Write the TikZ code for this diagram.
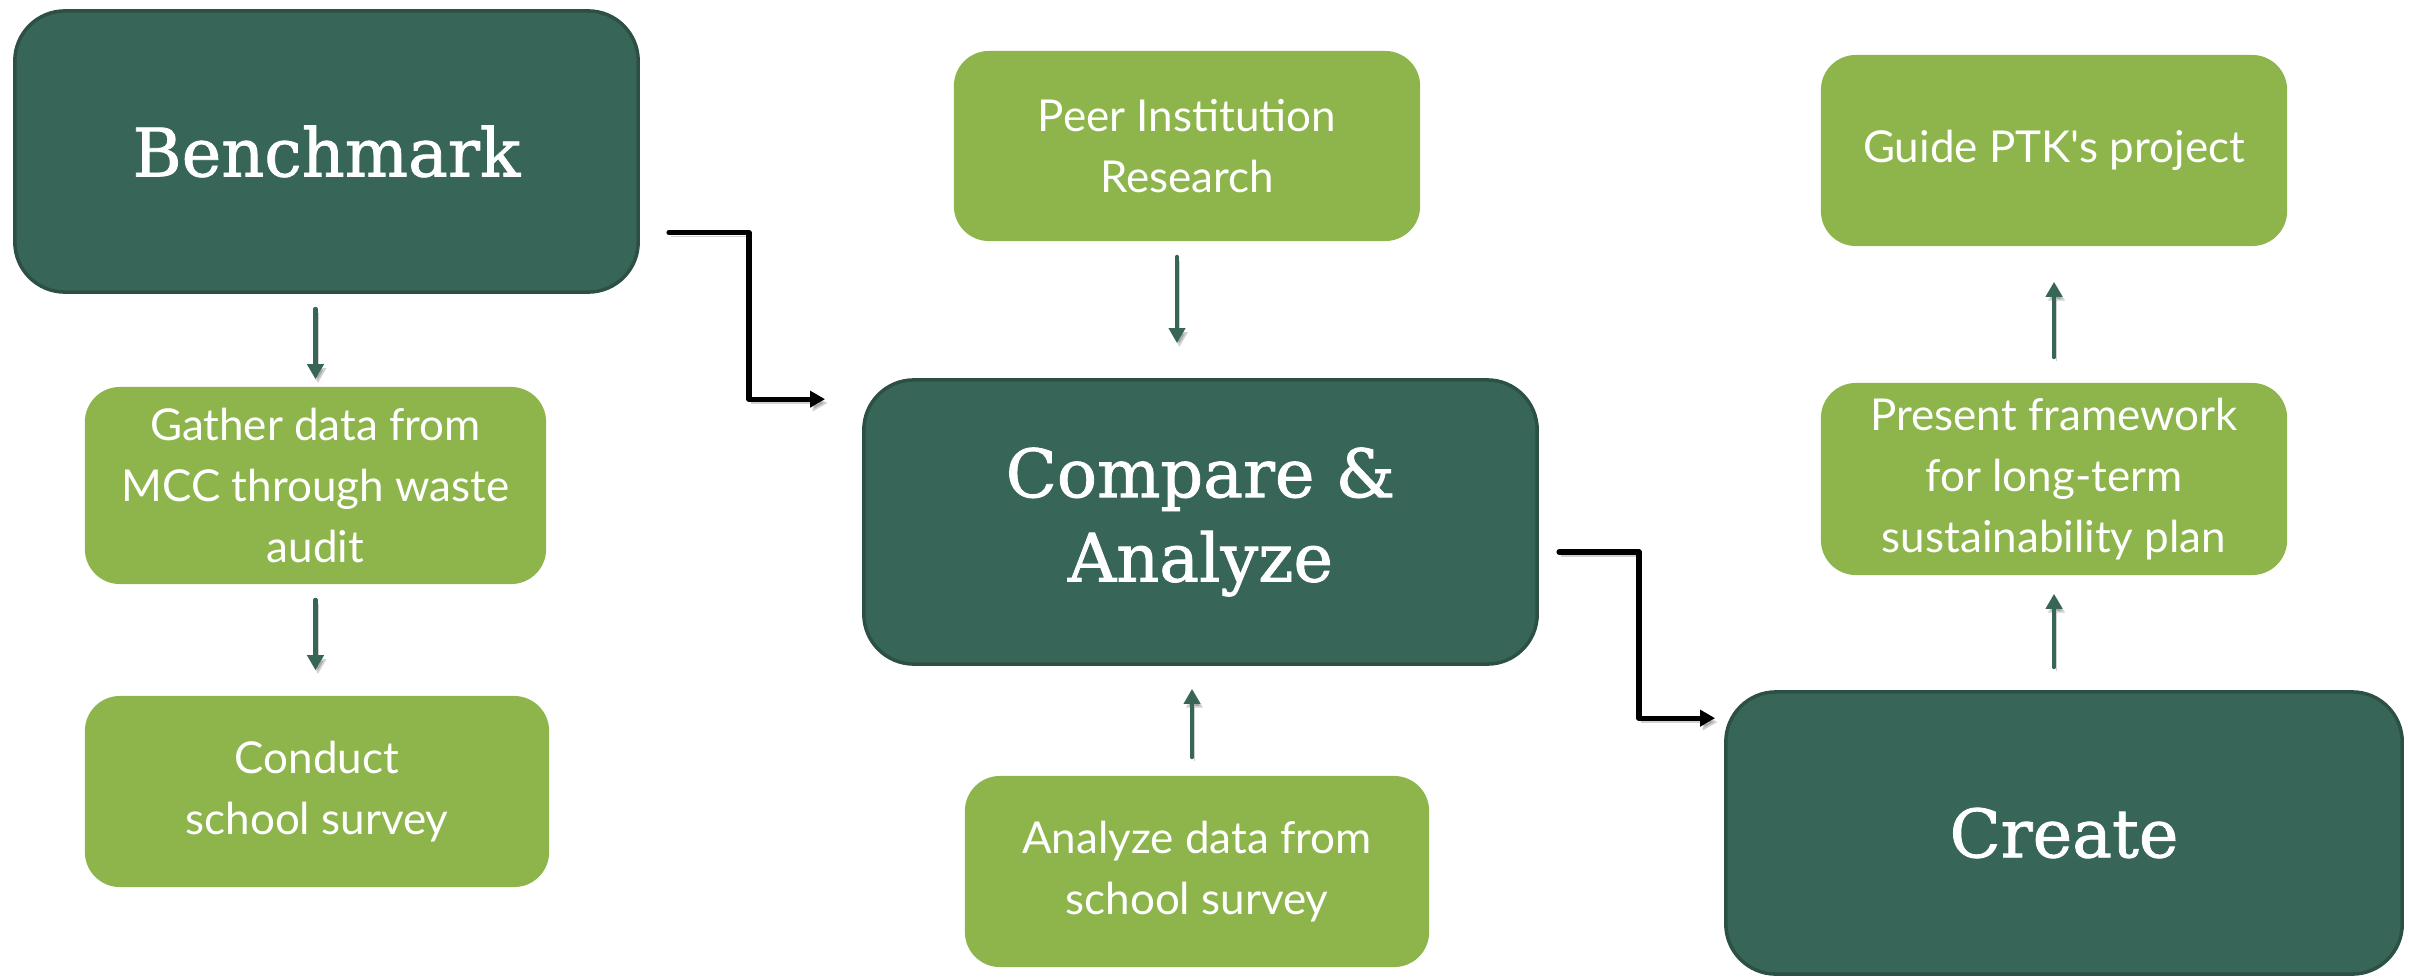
\documentclass[tikz,border=0pt]{standalone}
\usepackage{fontspec}
\setmainfont{Lato}
\newfontfamily\headfont[FakeBold=1.2]{DejaVu Serif}
\usetikzlibrary{arrows.meta,calc}
\definecolor{darkg}{HTML}{376658}
\definecolor{darkgb}{HTML}{2D5044}
\definecolor{lightg}{HTML}{8DB54B}
\tikzset{
  dbox/.style={draw=darkgb, line width=1pt, fill=darkg, rounded corners=0.5cm,
    text=white, align=center, font=\headfont\fontsize{19}{24}\selectfont, inner sep=0pt},
  lbox/.style={fill=lightg, rounded corners=0.35cm, text=white, align=center,
    font=\fontsize{12.5}{17.3}\selectfont, inner sep=0pt},
  shad/.style={preaction={draw=black, opacity=0.18, transform canvas={xshift=0.7pt,yshift=-1.1pt}}},
  garrow/.style={shad, draw=darkg, line width=1.15pt, line cap=round,
    -{Triangle[length=1.5mm,width=1.6mm]}},
  karrow/.style={shad, draw=black, line width=1.45pt, line cap=round, line join=round,
    -{Triangle[length=1.5mm,width=1.6mm]}}
}
\begin{document}
\begin{tikzpicture}[x=0.01cm,y=-0.01cm]
\useasboundingbox (0,0) rectangle (2410,976);
% dark boxes
\node[dbox, minimum width=6.23cm, minimum height=2.81cm] (bench) at (326.5,151.5) {Benchmark};
\node[dbox, minimum width=6.73cm, minimum height=2.84cm] (compare) at (1200.5,522) {Compare \&\\Analyze};
\node[dbox, minimum width=6.76cm, minimum height=2.82cm] (create) at (2064,833) {Create};
% light boxes
\node[lbox, minimum width=4.61cm, minimum height=1.97cm] (gather) at (315.5,485.5) {Gather data from\\MCC through waste\\audit};
\node[lbox, minimum width=4.64cm, minimum height=1.91cm] (conduct) at (317,791.5) {Conduct\\school survey};
\node[lbox, minimum width=4.66cm, minimum height=1.90cm] (peer) at (1187,146) {Peer Institution\\Research};
\node[lbox, minimum width=4.64cm, minimum height=1.91cm] (analyze) at (1197,871.5) {Analyze data from\\school survey};
\node[lbox, minimum width=4.66cm, minimum height=1.91cm] (guide) at (2054,150.5) {Guide PTK\textquotesingle s project};
\node[lbox, minimum width=4.66cm, minimum height=1.92cm] (present) at (2054,479) {Present framework\\for long-term\\sustainability plan};
% green arrows
\draw[garrow, shorten <=0.15cm, shorten >=0.07cm] (bench.south -| gather.north) -- (gather.north);
\draw[garrow, shorten <=0.15cm, shorten >=0.25cm] (gather.south) -- (gather.south |- conduct.north);
\draw[garrow, shorten <=0.15cm, shorten >=0.35cm] (peer.south -| 1177,0) -- (compare.north -| 1177,0);
\draw[garrow, shorten <=0.18cm, shorten >=0.23cm] (analyze.north -| 1192,0) -- (compare.south -| 1192,0);
\draw[garrow, shorten <=0.23cm, shorten >=0.18cm] (create.north -| present.south) -- (present.south);
\draw[garrow, shorten <=0.25cm, shorten >=0.35cm] (present.north) -- (guide.south);
% black elbow connectors
\coordinate (e1s) at ($(bench.east)+(29,81)$);
\coordinate (e1e) at ($(compare.north west)+(-37,21)$);
\draw[karrow] (e1s) -- ++(80,0) |- (e1e);
\coordinate (e2s) at ($(compare.east)+(20,30)$);
\coordinate (e2e) at ($(create.north west)+(-9,28)$);
\draw[karrow] (e2s) -- ++(80,0) |- (e2e);
\end{tikzpicture}
\end{document}
